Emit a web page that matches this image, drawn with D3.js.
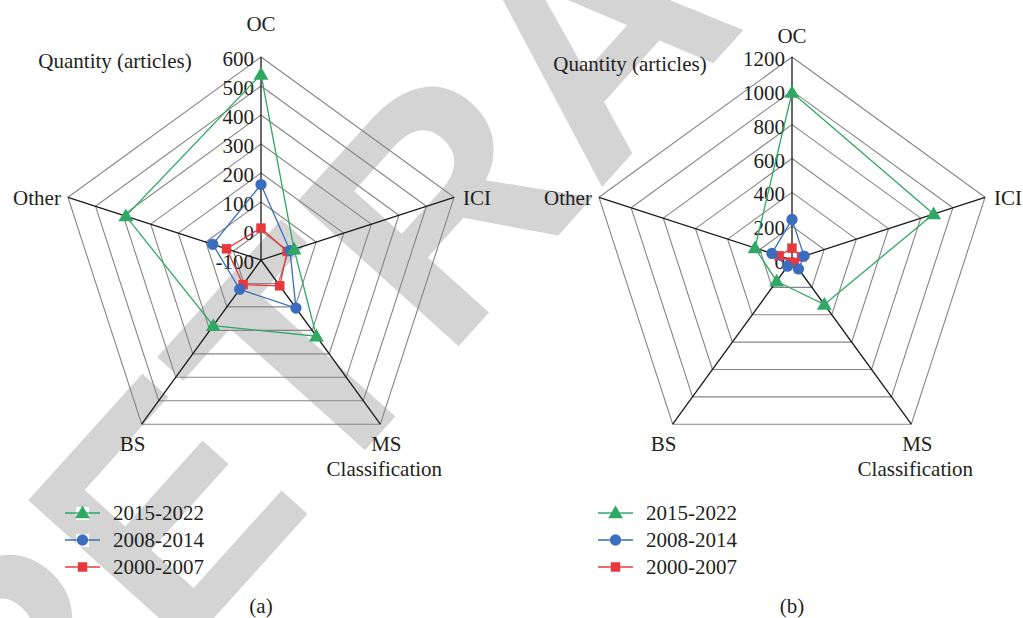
<!DOCTYPE html>
<html><head><meta charset="utf-8">
<script src="https://cdn.jsdelivr.net/npm/d3@7"></script>
<style>
body{margin:0;background:#fff}
text{font-family:"Liberation Serif","Times New Roman",serif;fill:#231f20}
</style>
</head><body>
<svg id="c" width="1023" height="618"></svg>
<script>
// ---- data ----
const categories = ["OC", "ICI", "MS", "BS", "Other"];
const seriesNames = ["2015-2022", "2008-2014", "2000-2007"];
const ticksA = [-100, 0, 100, 200, 300, 400, 500, 600];
const ticksB = [0, 200, 400, 600, 800, 1000, 1200];
const a2015 = [540, 20, 225, 180, 390];
const a2008 = [160, 5, 105, 25, 75];
const a2000 = [10, -5, 10, 5, 25];
const b2015 = [990, 880, 325, 155, 230];
const b2008 = [240, 75, 65, 45, 125];
const b2000 = [70, 60, 20, 15, 80];
const valueTitle = "Quantity (articles)";
const categoryTitle = "Classification";
const panelLabels = ["(a)", "(b)"];
const watermark = "RETRACTED";

const colors = ["#2fa864", "#3a6dbd", "#e8383d"];
const shapes = [d3.symbolTriangle, d3.symbolCircle, d3.symbolSquare];
const shapeSizes = [95, 100, 90];

const svg = d3.select("#c");
svg.append("rect").attr("width", 1023).attr("height", 618).attr("fill", "#fff");

// watermark
svg.append("text")
  .attr("transform", "translate(23,830) rotate(-48)")
  .style("font-family", "'Liberation Sans',Arial,sans-serif")
  .style("font-weight", "bold")
  .style("font-size", "315px")
  .style("fill", "#d4d4d4")
  .text(watermark);

const FS = 21;

function radar(cx, cy, R, ticks, series, lab) {
  const g = svg.append("g").attr("transform", `translate(${cx},${cy})`);
  const r = d3.scaleLinear().domain([ticks[0], ticks[ticks.length - 1]]).range([0, R]);
  const a = d3.scaleLinear().domain([0, categories.length]).range([0, 2 * Math.PI]);
  const pt = (i, v) => [r(v) * Math.sin(a(i)), -r(v) * Math.cos(a(i))];

  // rings
  ticks.slice(1).forEach(t => {
    g.append("path")
      .attr("d", d3.line()(categories.map((c, i) => pt(i, t))) + "Z")
      .attr("fill", "none").attr("stroke", "#858585").attr("stroke-width", 1.1);
  });
  // spokes
  categories.forEach((c, i) => {
    const p = pt(i, ticks[ticks.length - 1]);
    g.append("line").attr("x1", 0).attr("y1", 0).attr("x2", p[0]).attr("y2", p[1])
      .attr("stroke", "#1a1a1a").attr("stroke-width", 1.3);
  });
  // tick labels
  ticks.forEach(t => {
    g.append("text").attr("x", -7).attr("y", -r(t) + 9)
      .attr("text-anchor", "end").style("font-size", FS + "px").text(t);
  });
  // series (draw oldest first)
  const line = d3.lineRadial().angle((d, i) => a(i)).radius(d => r(d)).curve(d3.curveLinearClosed);
  [2, 1, 0].forEach(k => {
    g.append("path").attr("d", line(series[k]))
      .attr("fill", "none").attr("stroke", colors[k]).attr("stroke-width", 1.3);
    series[k].forEach((v, i) => {
      const p = pt(i, v);
      g.append("path").attr("d", d3.symbol().type(shapes[k]).size(shapeSizes[k])())
        .attr("transform", `translate(${p[0]},${p[1] + (k === 0 ? 1 : 0)})`)
        .attr("fill", colors[k]);
    });
  });
  // category labels
  const L = lab;
  const t = (x, y, s, anchor) => svg.append("text").attr("x", x).attr("y", y)
    .attr("text-anchor", anchor).style("font-size", FS + "px").text(s);
  t(cx, L.ocY, categories[0], "middle");
  t(cx + R * 0.951 + 9, cy - R * 0.309 + 8, categories[1], "start");
  t(cx + R * 0.588 + 6, cy + R * 0.809 + 27, categories[2], "middle");
  t(cx - R * 0.588 - 9, cy + R * 0.809 + 27, categories[3], "middle");
  t(cx - R * 0.951 - 7, cy - R * 0.309 + 8, categories[4], "end");
  t(cx + R * 0.588 + 4, cy + R * 0.809 + 52, categoryTitle, "middle");
  t(L.qx, L.qy, valueTitle, "middle");
  t(cx, 613, L.panel, "middle");

  // legend
  seriesNames.forEach((s, k) => {
    const y = 513 + k * 27;
    svg.append("line").attr("x1", L.lx).attr("x2", L.lx + 35).attr("y1", y).attr("y2", y)
      .attr("stroke", colors[k]).attr("stroke-width", 1.3);
    svg.append("rect").attr("x", L.lx + 11).attr("y", y - 6).attr("width", 13).attr("height", 13).attr("fill", "#fff");
    svg.append("line").attr("x1", L.lx + 11).attr("x2", L.lx + 24).attr("y1", y).attr("y2", y)
      .attr("stroke", colors[k]).attr("stroke-width", 1.3);
    svg.append("path").attr("d", d3.symbol().type(shapes[k]).size(shapeSizes[k])())
      .attr("transform", `translate(${L.lx + 17.5},${y + (k === 0 ? 1 : 0)})`).attr("fill", colors[k]);
    svg.append("text").attr("x", L.lx + 48).attr("y", y + 7)
      .style("font-size", FS + "px").text(s);
  });
}

radar(261, 260, 203, ticksA, [a2015, a2008, a2000],
  {ocY: 31, qx: 115, qy: 68, panel: panelLabels[0], lx: 65});
radar(792, 260, 203, ticksB, [b2015, b2008, b2000],
  {ocY: 43, qx: 630, qy: 71, panel: panelLabels[1], lx: 598});
</script>
</body></html>
